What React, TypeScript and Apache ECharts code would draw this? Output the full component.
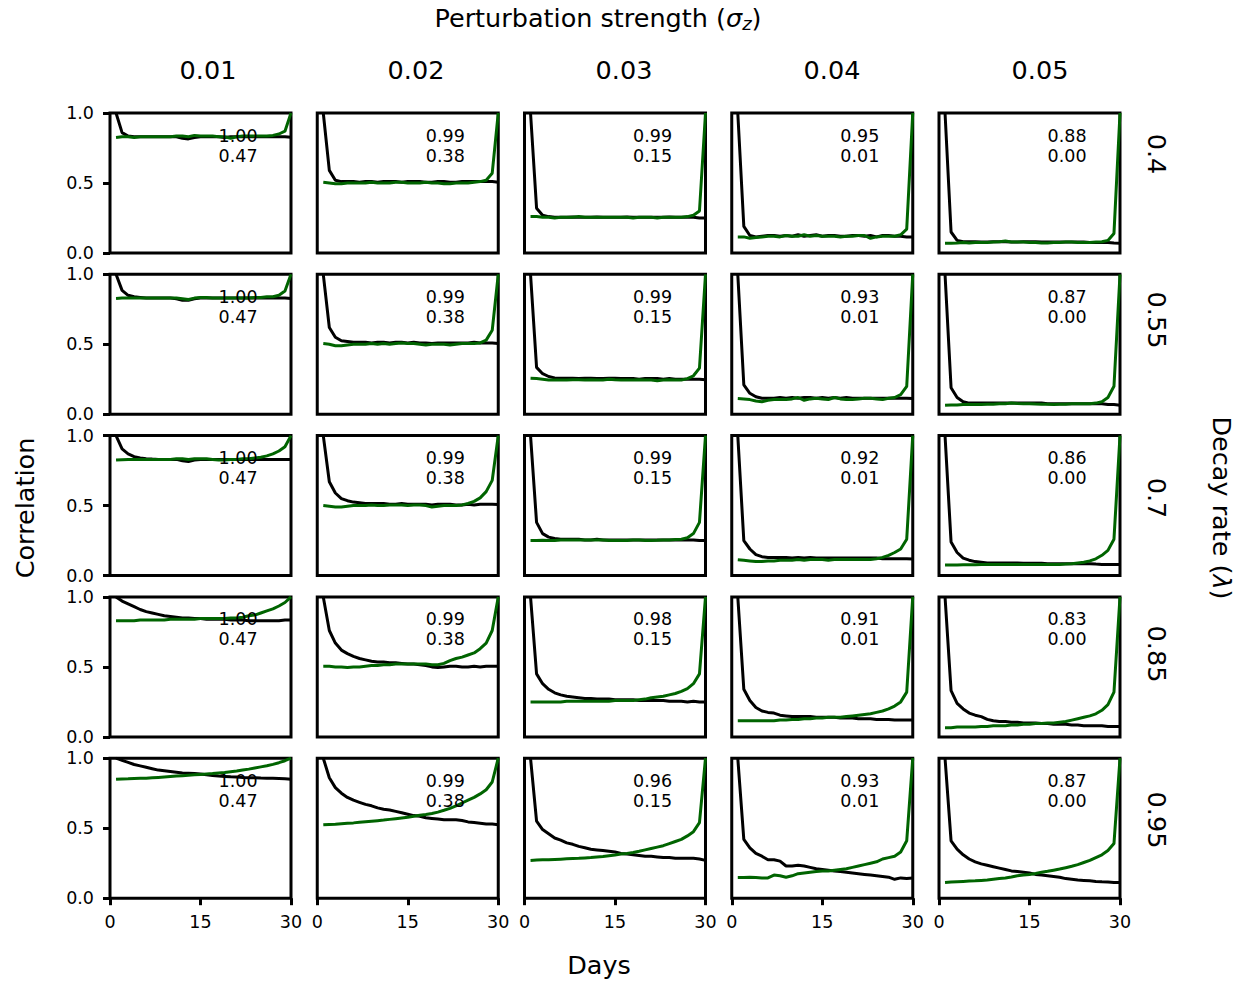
import React, { useEffect, useRef } from "react";
import * as echarts from "echarts";

// ---------- DATA ----------
const days = [1, 2, 3, 4, 5, 6, 7, 8, 9, 10, 11, 12, 13, 14, 15, 16, 17, 18, 19, 20, 21, 22, 23, 24, 25, 26, 27, 28, 29, 30];
const sigmaLabels = ["0.01", "0.02", "0.03", "0.04", "0.05"];
const lambdaLabels = ["0.4", "0.55", "0.7", "0.85", "0.95"];
const xTicks = [0, 15, 30];
const yTicks = [0, 0.5, 1];

const topScores = [
  ["1.00", "0.99", "0.99", "0.95", "0.88"],
  ["1.00", "0.99", "0.99", "0.93", "0.87"],
  ["1.00", "0.99", "0.99", "0.92", "0.86"],
  ["1.00", "0.99", "0.98", "0.91", "0.83"],
  ["1.00", "0.99", "0.96", "0.93", "0.87"],
];
const bottomScores = [
  ["0.47", "0.38", "0.15", "0.01", "0.00"],
  ["0.47", "0.38", "0.15", "0.01", "0.00"],
  ["0.47", "0.38", "0.15", "0.01", "0.00"],
  ["0.47", "0.38", "0.15", "0.01", "0.00"],
  ["0.47", "0.38", "0.15", "0.01", "0.00"],
];

// lambda = 0.4
const black_l040_s001 = [1.0, 0.86, 0.835, 0.83, 0.83, 0.83, 0.83, 0.83, 0.83, 0.83, 0.83, 0.82, 0.815, 0.825, 0.83, 0.83, 0.83, 0.83, 0.825, 0.83, 0.83, 0.83, 0.83, 0.83, 0.83, 0.83, 0.83, 0.83, 0.83, 0.826];
const green_l040_s001 = [0.825, 0.83, 0.83, 0.825, 0.83, 0.83, 0.83, 0.83, 0.83, 0.83, 0.835, 0.835, 0.83, 0.84, 0.835, 0.835, 0.835, 0.83, 0.83, 0.82, 0.83, 0.835, 0.835, 0.835, 0.835, 0.835, 0.84, 0.85, 0.87, 1.0];
const black_l040_s002 = [1.0, 0.59, 0.52, 0.51, 0.51, 0.51, 0.505, 0.51, 0.51, 0.505, 0.51, 0.51, 0.51, 0.505, 0.51, 0.51, 0.51, 0.505, 0.505, 0.51, 0.51, 0.505, 0.505, 0.51, 0.51, 0.51, 0.51, 0.51, 0.51, 0.505];
const green_l040_s002 = [0.505, 0.5, 0.495, 0.495, 0.5, 0.5, 0.5, 0.5, 0.505, 0.5, 0.5, 0.5, 0.505, 0.505, 0.5, 0.5, 0.5, 0.505, 0.5, 0.5, 0.495, 0.495, 0.5, 0.5, 0.5, 0.505, 0.51, 0.52, 0.57, 1.0];
const black_l040_s003 = [1.0, 0.32, 0.27, 0.26, 0.255, 0.255, 0.255, 0.258, 0.255, 0.255, 0.255, 0.258, 0.255, 0.255, 0.255, 0.255, 0.258, 0.255, 0.255, 0.255, 0.255, 0.255, 0.255, 0.258, 0.255, 0.255, 0.255, 0.255, 0.25, 0.25];
const green_l040_s003 = [0.26, 0.26, 0.255, 0.255, 0.25, 0.255, 0.255, 0.255, 0.26, 0.255, 0.255, 0.255, 0.255, 0.255, 0.255, 0.255, 0.255, 0.25, 0.255, 0.255, 0.255, 0.25, 0.255, 0.255, 0.255, 0.255, 0.26, 0.27, 0.3, 1.0];
const black_l040_s004 = [1.0, 0.19, 0.125, 0.115, 0.12, 0.125, 0.125, 0.12, 0.125, 0.12, 0.13, 0.12, 0.125, 0.13, 0.12, 0.125, 0.125, 0.12, 0.12, 0.125, 0.125, 0.12, 0.125, 0.115, 0.125, 0.125, 0.12, 0.12, 0.115, 0.115];
const green_l040_s004 = [0.115, 0.115, 0.105, 0.11, 0.115, 0.12, 0.12, 0.115, 0.125, 0.12, 0.12, 0.13, 0.12, 0.125, 0.12, 0.12, 0.12, 0.115, 0.12, 0.12, 0.125, 0.125, 0.105, 0.115, 0.12, 0.12, 0.12, 0.13, 0.17, 1.0];
const black_l040_s005 = [1.0, 0.15, 0.09, 0.08, 0.08, 0.08, 0.078, 0.078, 0.08, 0.08, 0.08, 0.078, 0.078, 0.08, 0.08, 0.08, 0.078, 0.078, 0.078, 0.078, 0.078, 0.078, 0.078, 0.078, 0.075, 0.075, 0.075, 0.075, 0.072, 0.07];
const green_l040_s005 = [0.07, 0.07, 0.072, 0.075, 0.072, 0.075, 0.075, 0.075, 0.078, 0.08, 0.085, 0.078, 0.078, 0.078, 0.075, 0.075, 0.072, 0.072, 0.075, 0.075, 0.078, 0.078, 0.075, 0.075, 0.075, 0.078, 0.08, 0.09, 0.14, 1.0];

// lambda = 0.55
const black_l055_s001 = [1.0, 0.885, 0.85, 0.84, 0.835, 0.83, 0.83, 0.83, 0.83, 0.83, 0.825, 0.815, 0.815, 0.825, 0.83, 0.83, 0.83, 0.83, 0.83, 0.83, 0.83, 0.83, 0.83, 0.83, 0.83, 0.83, 0.83, 0.83, 0.83, 0.827];
const green_l055_s001 = [0.827, 0.83, 0.83, 0.83, 0.83, 0.83, 0.83, 0.83, 0.83, 0.83, 0.83, 0.825, 0.82, 0.83, 0.835, 0.835, 0.83, 0.83, 0.83, 0.83, 0.83, 0.83, 0.83, 0.835, 0.835, 0.84, 0.84, 0.85, 0.88, 1.0];
const black_l055_s002 = [1.0, 0.62, 0.55, 0.525, 0.52, 0.515, 0.515, 0.515, 0.51, 0.515, 0.515, 0.51, 0.515, 0.515, 0.51, 0.515, 0.51, 0.51, 0.505, 0.51, 0.51, 0.51, 0.51, 0.51, 0.51, 0.515, 0.51, 0.51, 0.51, 0.505];
const green_l055_s002 = [0.505, 0.5, 0.49, 0.49, 0.495, 0.5, 0.5, 0.5, 0.505, 0.5, 0.505, 0.5, 0.505, 0.51, 0.505, 0.505, 0.5, 0.495, 0.5, 0.5, 0.5, 0.495, 0.5, 0.505, 0.505, 0.505, 0.51, 0.53, 0.6, 1.0];
const black_l055_s003 = [1.0, 0.335, 0.29, 0.27, 0.26, 0.257, 0.257, 0.257, 0.255, 0.257, 0.257, 0.255, 0.255, 0.257, 0.257, 0.255, 0.255, 0.255, 0.25, 0.255, 0.255, 0.255, 0.25, 0.255, 0.25, 0.25, 0.25, 0.25, 0.25, 0.247];
const green_l055_s003 = [0.257, 0.255, 0.25, 0.245, 0.245, 0.245, 0.245, 0.247, 0.247, 0.245, 0.247, 0.245, 0.245, 0.25, 0.247, 0.245, 0.245, 0.245, 0.247, 0.245, 0.245, 0.24, 0.245, 0.247, 0.245, 0.245, 0.255, 0.275, 0.33, 1.0];
const black_l055_s004 = [1.0, 0.21, 0.15, 0.125, 0.115, 0.115, 0.115, 0.12, 0.115, 0.12, 0.115, 0.12, 0.12, 0.115, 0.12, 0.115, 0.12, 0.115, 0.12, 0.115, 0.115, 0.115, 0.115, 0.115, 0.115, 0.115, 0.115, 0.115, 0.115, 0.113];
const green_l055_s004 = [0.113, 0.11, 0.105, 0.095, 0.09, 0.1, 0.105, 0.105, 0.105, 0.11, 0.12, 0.1, 0.11, 0.115, 0.11, 0.105, 0.12, 0.11, 0.105, 0.105, 0.11, 0.115, 0.115, 0.11, 0.105, 0.115, 0.12, 0.14, 0.2, 1.0];
const black_l055_s005 = [1.0, 0.19, 0.12, 0.09, 0.08, 0.08, 0.08, 0.08, 0.08, 0.08, 0.08, 0.08, 0.08, 0.08, 0.08, 0.08, 0.08, 0.075, 0.075, 0.075, 0.075, 0.075, 0.075, 0.075, 0.075, 0.075, 0.075, 0.07, 0.07, 0.065];
const green_l055_s005 = [0.065, 0.067, 0.067, 0.07, 0.07, 0.07, 0.07, 0.072, 0.072, 0.075, 0.075, 0.08, 0.077, 0.075, 0.075, 0.073, 0.072, 0.072, 0.07, 0.072, 0.072, 0.075, 0.075, 0.075, 0.075, 0.08, 0.09, 0.12, 0.2, 1.0];

// lambda = 0.7
const black_l070_s001 = [1.0, 0.905, 0.87, 0.85, 0.84, 0.835, 0.832, 0.83, 0.83, 0.83, 0.83, 0.82, 0.815, 0.825, 0.83, 0.83, 0.83, 0.83, 0.83, 0.83, 0.83, 0.83, 0.83, 0.83, 0.83, 0.83, 0.83, 0.83, 0.83, 0.829];
const green_l070_s001 = [0.826, 0.828, 0.83, 0.83, 0.83, 0.83, 0.83, 0.83, 0.83, 0.83, 0.835, 0.835, 0.83, 0.835, 0.835, 0.835, 0.83, 0.825, 0.825, 0.83, 0.83, 0.835, 0.835, 0.84, 0.845, 0.855, 0.87, 0.89, 0.92, 1.0];
const black_l070_s002 = [1.0, 0.67, 0.59, 0.55, 0.535, 0.525, 0.52, 0.515, 0.515, 0.515, 0.515, 0.51, 0.51, 0.515, 0.51, 0.51, 0.51, 0.51, 0.505, 0.51, 0.51, 0.51, 0.505, 0.505, 0.51, 0.505, 0.51, 0.51, 0.51, 0.507];
const green_l070_s002 = [0.5, 0.495, 0.49, 0.49, 0.495, 0.5, 0.5, 0.5, 0.505, 0.5, 0.5, 0.505, 0.505, 0.505, 0.5, 0.505, 0.505, 0.5, 0.49, 0.495, 0.5, 0.5, 0.5, 0.505, 0.515, 0.53, 0.555, 0.6, 0.68, 1.0];
const black_l070_s003 = [1.0, 0.38, 0.3, 0.275, 0.265, 0.26, 0.26, 0.26, 0.26, 0.255, 0.255, 0.26, 0.255, 0.255, 0.255, 0.255, 0.255, 0.255, 0.255, 0.255, 0.255, 0.255, 0.255, 0.255, 0.255, 0.255, 0.255, 0.255, 0.25, 0.25];
const green_l070_s003 = [0.25, 0.25, 0.252, 0.25, 0.25, 0.255, 0.255, 0.255, 0.255, 0.255, 0.255, 0.255, 0.255, 0.25, 0.25, 0.25, 0.25, 0.255, 0.255, 0.25, 0.25, 0.252, 0.255, 0.255, 0.258, 0.26, 0.27, 0.3, 0.38, 1.0];
const black_l070_s004 = [1.0, 0.25, 0.19, 0.15, 0.135, 0.13, 0.13, 0.13, 0.13, 0.125, 0.13, 0.125, 0.13, 0.125, 0.125, 0.125, 0.125, 0.125, 0.125, 0.125, 0.125, 0.125, 0.125, 0.125, 0.12, 0.12, 0.12, 0.12, 0.12, 0.119];
const green_l070_s004 = [0.114, 0.11, 0.105, 0.1, 0.1, 0.105, 0.105, 0.11, 0.11, 0.11, 0.115, 0.11, 0.115, 0.115, 0.115, 0.11, 0.115, 0.115, 0.115, 0.115, 0.115, 0.115, 0.115, 0.12, 0.13, 0.145, 0.165, 0.19, 0.26, 1.0];
const black_l070_s005 = [1.0, 0.24, 0.165, 0.125, 0.11, 0.1, 0.095, 0.09, 0.09, 0.09, 0.09, 0.09, 0.09, 0.088, 0.088, 0.088, 0.088, 0.085, 0.085, 0.085, 0.085, 0.085, 0.085, 0.085, 0.085, 0.082, 0.08, 0.08, 0.08, 0.079];
const green_l070_s005 = [0.076, 0.076, 0.076, 0.077, 0.078, 0.078, 0.08, 0.08, 0.08, 0.08, 0.08, 0.08, 0.08, 0.08, 0.08, 0.08, 0.08, 0.08, 0.08, 0.08, 0.082, 0.085, 0.09, 0.095, 0.105, 0.12, 0.145, 0.18, 0.26, 1.0];

// lambda = 0.85
const black_l085_s001 = [1.0, 0.97, 0.95, 0.93, 0.91, 0.895, 0.885, 0.875, 0.865, 0.86, 0.855, 0.85, 0.85, 0.845, 0.845, 0.84, 0.84, 0.84, 0.84, 0.835, 0.835, 0.835, 0.83, 0.83, 0.83, 0.83, 0.83, 0.83, 0.835, 0.835];
const green_l085_s001 = [0.83, 0.83, 0.83, 0.83, 0.835, 0.835, 0.835, 0.835, 0.835, 0.84, 0.84, 0.84, 0.84, 0.84, 0.845, 0.845, 0.845, 0.845, 0.845, 0.85, 0.85, 0.855, 0.865, 0.87, 0.885, 0.9, 0.915, 0.935, 0.96, 1.0];
const black_l085_s002 = [1.0, 0.76, 0.67, 0.62, 0.595, 0.575, 0.56, 0.55, 0.54, 0.535, 0.535, 0.53, 0.53, 0.525, 0.52, 0.52, 0.515, 0.51, 0.5, 0.495, 0.5, 0.505, 0.505, 0.5, 0.5, 0.505, 0.5, 0.505, 0.505, 0.505];
const green_l085_s002 = [0.505, 0.505, 0.5, 0.5, 0.495, 0.5, 0.5, 0.505, 0.51, 0.51, 0.515, 0.515, 0.52, 0.52, 0.52, 0.52, 0.52, 0.52, 0.515, 0.515, 0.525, 0.545, 0.56, 0.57, 0.585, 0.6, 0.63, 0.67, 0.76, 1.0];
const black_l085_s003 = [1.0, 0.45, 0.38, 0.34, 0.315, 0.3, 0.29, 0.285, 0.28, 0.275, 0.275, 0.27, 0.27, 0.27, 0.265, 0.265, 0.265, 0.265, 0.26, 0.26, 0.26, 0.26, 0.26, 0.255, 0.255, 0.255, 0.25, 0.255, 0.25, 0.25];
const green_l085_s003 = [0.25, 0.25, 0.25, 0.25, 0.25, 0.25, 0.255, 0.255, 0.255, 0.255, 0.255, 0.255, 0.255, 0.255, 0.26, 0.26, 0.26, 0.26, 0.265, 0.27, 0.28, 0.285, 0.29, 0.3, 0.31, 0.325, 0.345, 0.38, 0.45, 1.0];
const black_l085_s004 = [1.0, 0.34, 0.26, 0.21, 0.185, 0.175, 0.17, 0.155, 0.15, 0.145, 0.145, 0.145, 0.145, 0.14, 0.14, 0.14, 0.14, 0.135, 0.135, 0.135, 0.13, 0.13, 0.13, 0.125, 0.125, 0.125, 0.12, 0.12, 0.12, 0.12];
const green_l085_s004 = [0.115, 0.115, 0.115, 0.115, 0.115, 0.115, 0.115, 0.12, 0.12, 0.125, 0.125, 0.13, 0.13, 0.135, 0.135, 0.14, 0.14, 0.14, 0.145, 0.15, 0.155, 0.16, 0.165, 0.175, 0.185, 0.2, 0.22, 0.25, 0.32, 1.0];
const black_l085_s005 = [1.0, 0.33, 0.24, 0.2, 0.17, 0.155, 0.145, 0.125, 0.115, 0.11, 0.11, 0.105, 0.105, 0.1, 0.1, 0.1, 0.095, 0.095, 0.09, 0.09, 0.09, 0.085, 0.085, 0.08, 0.08, 0.08, 0.08, 0.075, 0.075, 0.075];
const green_l085_s005 = [0.065, 0.065, 0.07, 0.07, 0.07, 0.07, 0.075, 0.075, 0.08, 0.08, 0.08, 0.085, 0.085, 0.09, 0.09, 0.095, 0.095, 0.1, 0.1, 0.105, 0.11, 0.12, 0.13, 0.14, 0.15, 0.165, 0.19, 0.23, 0.32, 1.0];

// lambda = 0.95
const black_l095_s001 = [1.0, 0.985, 0.97, 0.955, 0.945, 0.935, 0.925, 0.915, 0.91, 0.905, 0.9, 0.895, 0.893, 0.89, 0.887, 0.882, 0.877, 0.873, 0.87, 0.867, 0.865, 0.862, 0.86, 0.86, 0.858, 0.857, 0.857, 0.855, 0.853, 0.85];
const green_l095_s001 = [0.85, 0.852, 0.853, 0.855, 0.856, 0.857, 0.86, 0.863, 0.866, 0.869, 0.872, 0.875, 0.878, 0.881, 0.884, 0.887, 0.89, 0.894, 0.898, 0.903, 0.908, 0.915, 0.922, 0.93, 0.938, 0.946, 0.956, 0.968, 0.982, 1.0];
const black_l095_s002 = [1.0, 0.86, 0.79, 0.75, 0.72, 0.7, 0.685, 0.67, 0.66, 0.645, 0.635, 0.63, 0.62, 0.61, 0.6, 0.59, 0.585, 0.575, 0.57, 0.565, 0.56, 0.56, 0.56, 0.555, 0.545, 0.54, 0.535, 0.53, 0.53, 0.525];
const green_l095_s002 = [0.525, 0.527, 0.529, 0.532, 0.535, 0.538, 0.542, 0.546, 0.55, 0.554, 0.558, 0.563, 0.568, 0.573, 0.578, 0.585, 0.592, 0.598, 0.605, 0.615, 0.628, 0.642, 0.66, 0.68, 0.7, 0.72, 0.745, 0.775, 0.83, 1.0];
const black_l095_s003 = [1.0, 0.55, 0.49, 0.46, 0.43, 0.415, 0.395, 0.385, 0.37, 0.36, 0.35, 0.345, 0.34, 0.335, 0.33, 0.32, 0.315, 0.31, 0.305, 0.3, 0.3, 0.295, 0.29, 0.29, 0.285, 0.285, 0.285, 0.285, 0.28, 0.27];
const green_l095_s003 = [0.27, 0.272, 0.274, 0.275, 0.277, 0.279, 0.281, 0.283, 0.285, 0.288, 0.29, 0.294, 0.298, 0.303, 0.308, 0.315, 0.32, 0.327, 0.335, 0.345, 0.355, 0.365, 0.375, 0.39, 0.405, 0.42, 0.445, 0.475, 0.54, 1.0];
const black_l095_s004 = [1.0, 0.42, 0.36, 0.32, 0.3, 0.275, 0.275, 0.265, 0.23, 0.23, 0.235, 0.23, 0.22, 0.21, 0.205, 0.2, 0.195, 0.19, 0.185, 0.18, 0.175, 0.17, 0.165, 0.16, 0.155, 0.15, 0.135, 0.145, 0.14, 0.145];
const green_l095_s004 = [0.148, 0.148, 0.15, 0.148, 0.145, 0.145, 0.165, 0.16, 0.15, 0.16, 0.175, 0.18, 0.185, 0.19, 0.195, 0.195, 0.2, 0.205, 0.21, 0.22, 0.23, 0.24, 0.25, 0.26, 0.28, 0.29, 0.3, 0.33, 0.41, 1.0];
const black_l095_s005 = [1.0, 0.41, 0.35, 0.31, 0.28, 0.26, 0.245, 0.235, 0.225, 0.215, 0.205, 0.195, 0.19, 0.185, 0.18, 0.17, 0.165, 0.16, 0.155, 0.15, 0.14, 0.135, 0.13, 0.127, 0.124, 0.12, 0.117, 0.115, 0.113, 0.112];
const green_l095_s005 = [0.112, 0.115, 0.118, 0.12, 0.122, 0.124, 0.127, 0.13, 0.135, 0.14, 0.145, 0.152, 0.16, 0.165, 0.17, 0.177, 0.185, 0.192, 0.2, 0.208, 0.218, 0.228, 0.24, 0.255, 0.27, 0.29, 0.31, 0.34, 0.39, 1.0];

const blackRows = [
  [black_l040_s001, black_l040_s002, black_l040_s003, black_l040_s004, black_l040_s005],
  [black_l055_s001, black_l055_s002, black_l055_s003, black_l055_s004, black_l055_s005],
  [black_l070_s001, black_l070_s002, black_l070_s003, black_l070_s004, black_l070_s005],
  [black_l085_s001, black_l085_s002, black_l085_s003, black_l085_s004, black_l085_s005],
  [black_l095_s001, black_l095_s002, black_l095_s003, black_l095_s004, black_l095_s005],
];
const greenRows = [
  [green_l040_s001, green_l040_s002, green_l040_s003, green_l040_s004, green_l040_s005],
  [green_l055_s001, green_l055_s002, green_l055_s003, green_l055_s004, green_l055_s005],
  [green_l070_s001, green_l070_s002, green_l070_s003, green_l070_s004, green_l070_s005],
  [green_l085_s001, green_l085_s002, green_l085_s003, green_l085_s004, green_l085_s005],
  [green_l095_s001, green_l095_s002, green_l095_s003, green_l095_s004, green_l095_s005],
];

// ---------- LAYOUT ----------
const W = 1247;
const H = 984;
const FONT = "DejaVu Sans";
const LEFT0 = 110;
const DX = 207.25;
const PW = 181;
const TOP0 = 113;
const DY = 161.3;
const PH = 140;
const LW = 3;
const SPINE = 3;
const BIG = 25.5;
const SMALL = 17.5;
const colTitleX = [208, 416, 624, 832, 1040];
const rowLabelY = [154, 320, 498, 654, 820];

function buildOption() {
  const grid: any[] = [];
  const xAxis: any[] = [];
  const yAxis: any[] = [];
  const series: any[] = [];
  const graphic: any[] = [];
  let k = 0;
  for (let r = 0; r < 5; r++) {
    for (let c = 0; c < 5; c++) {
      const left = LEFT0 + c * DX;
      const top = TOP0 + r * DY;
      grid.push({
        left,
        top,
        width: PW,
        height: PH,
        show: true,
        borderColor: "#000",
        borderWidth: SPINE,
        backgroundColor: "transparent",
      });
      const bottomRow = r === 4;
      const firstCol = c === 0;
      xAxis.push({
        type: "value",
        gridIndex: k,
        min: 0,
        max: 30,
        interval: 15,
        axisLine: { show: false },
        splitLine: { show: false },
        axisTick: { show: bottomRow, length: 7, lineStyle: { color: "#000", width: SPINE } },
        axisLabel: {
          show: bottomRow,
          margin: 15,
          color: "#000",
          fontFamily: FONT,
          fontSize: SMALL,
          formatter: (v: number) => (xTicks.indexOf(v) >= 0 ? String(v) : ""),
        },
      });
      yAxis.push({
        type: "value",
        gridIndex: k,
        min: 0,
        max: 1,
        interval: 0.5,
        axisLine: { show: false },
        splitLine: { show: false },
        axisTick: { show: firstCol, length: 7, lineStyle: { color: "#000", width: SPINE } },
        axisLabel: {
          show: firstCol,
          margin: 16,
          color: "#000",
          fontFamily: FONT,
          fontSize: SMALL,
          formatter: (v: number) => (yTicks.indexOf(v) >= 0 ? v.toFixed(1) : ""),
        },
      });
      series.push({
        type: "line",
        xAxisIndex: k,
        yAxisIndex: k,
        data: days.map((d, i) => [d, blackRows[r][c][i]]),
        showSymbol: false,
        symbol: "none",
        clip: true,
        lineStyle: { color: "#000000", width: LW },
        z: 3,
      });
      series.push({
        type: "line",
        xAxisIndex: k,
        yAxisIndex: k,
        data: days.map((d, i) => [d, greenRows[r][c][i]]),
        showSymbol: false,
        symbol: "none",
        clip: true,
        lineStyle: { color: "#006400", width: LW },
        z: 4,
      });
      graphic.push({
        type: "text",
        x: left + 0.6 * PW,
        y: top + 22.5,
        z: 10,
        style: { text: topScores[r][c], fontFamily: FONT, fontSize: SMALL, fill: "#000", align: "left", verticalAlign: "middle" },
      });
      graphic.push({
        type: "text",
        x: left + 0.6 * PW,
        y: top + 42.5,
        z: 10,
        style: { text: bottomScores[r][c], fontFamily: FONT, fontSize: SMALL, fill: "#000", align: "left", verticalAlign: "middle" },
      });
      k++;
    }
  }
  for (let c = 0; c < 5; c++) {
    graphic.push({
      type: "text",
      x: colTitleX[c],
      y: 70,
      style: { text: sigmaLabels[c], fontFamily: FONT, fontSize: BIG, fill: "#000", align: "center", verticalAlign: "middle" },
    });
  }
  for (let r = 0; r < 5; r++) {
    graphic.push({
      type: "text",
      x: 1157,
      y: rowLabelY[r],
      rotation: -Math.PI / 2,
      style: { text: lambdaLabels[r], fontFamily: FONT, fontSize: BIG, fill: "#000", align: "center", verticalAlign: "middle" },
    });
  }
  graphic.push({
    type: "text",
    x: 598,
    y: 18,
    style: {
      text: "{n|Perturbation strength (}{i|σ}{s|z}{n|)}",
      fontFamily: FONT,
      fontSize: BIG,
      fill: "#000",
      align: "center",
      verticalAlign: "middle",
      rich: {
        n: { fontFamily: FONT, fontSize: BIG, fill: "#000" },
        i: { fontFamily: FONT, fontSize: BIG, fontStyle: "italic", fill: "#000" },
        s: { fontFamily: FONT, fontSize: 18, fontStyle: "italic", fill: "#000", padding: [10, 0, 0, 0] },
      },
    },
  });
  graphic.push({
    type: "text",
    x: 1222,
    y: 508,
    rotation: -Math.PI / 2,
    style: {
      text: "{n|Decay rate (}{i|λ}{n|)}",
      fontFamily: FONT,
      fontSize: BIG,
      fill: "#000",
      align: "center",
      verticalAlign: "middle",
      rich: {
        n: { fontFamily: FONT, fontSize: BIG, fill: "#000" },
        i: { fontFamily: FONT, fontSize: BIG, fontStyle: "italic", fill: "#000" },
      },
    },
  });
  graphic.push({
    type: "text",
    x: 25,
    y: 508,
    rotation: Math.PI / 2,
    style: { text: "Correlation", fontFamily: FONT, fontSize: BIG, fill: "#000", align: "center", verticalAlign: "middle" },
  });
  graphic.push({
    type: "text",
    x: 599,
    y: 965,
    style: { text: "Days", fontFamily: FONT, fontSize: BIG, fill: "#000", align: "center", verticalAlign: "middle" },
  });

  return {
    animation: false,
    backgroundColor: "#ffffff",
    grid,
    xAxis,
    yAxis,
    series,
    graphic,
  };
}

export default function App() {
  const ref = useRef<HTMLDivElement>(null);
  useEffect(() => {
    if (!ref.current) return;
    const chart = echarts.init(ref.current, undefined, { renderer: "svg" });
    chart.setOption(buildOption());
    return () => chart.dispose();
  }, []);
  return (
    <div
      ref={ref}
      style={{ position: "fixed", left: 0, top: 0, width: W, height: H, background: "#fff" }}
    />
  );
}
